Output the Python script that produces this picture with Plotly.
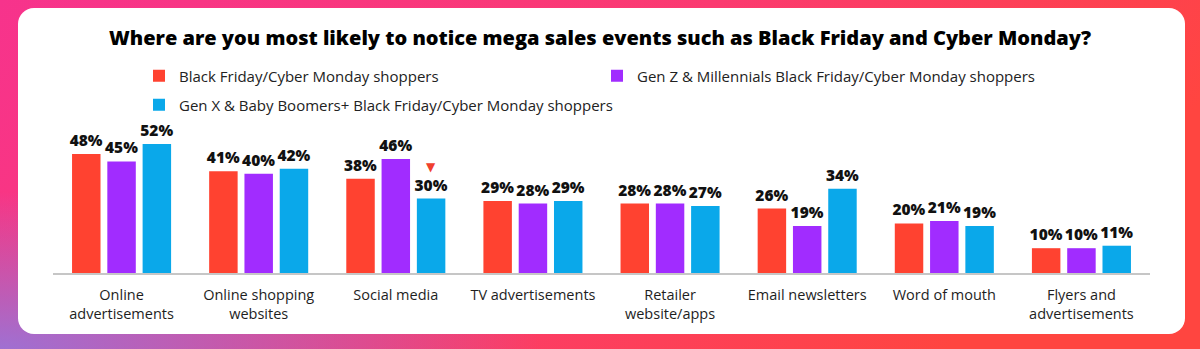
import base64
import plotly.graph_objects as go

categories = [
    "Online<br>advertisements",
    "Online shopping<br>websites",
    "Social media",
    "TV advertisements",
    "Retailer<br>website/apps",
    "Email newsletters",
    "Word of mouth",
    "Flyers and<br>advertisements",
]
all_shoppers = [48, 41, 38, 29, 28, 26, 20, 10]
genz_millennials = [45, 40, 46, 28, 28, 19, 21, 10]
genx_boomers = [52, 42, 30, 29, 27, 34, 19, 11]

series_names = [
    "Black Friday/Cyber Monday shoppers",
    "Gen Z & Millennials Black Friday/Cyber Monday shoppers",
    "Gen X & Baby Boomers+ Black Friday/Cyber Monday shoppers",
]
colors = ["#FF4230", "#A12CFF", "#0AA8EA"]

W, H = 1200, 349
L, R, T, B = 53, 50, 99, 76
pw, ph = W - L - R, H - T - B

svg = f"""<svg xmlns='http://www.w3.org/2000/svg' width='{W}' height='{H}' viewBox='0 0 {W} {H}' preserveAspectRatio='none'>
<defs>
<linearGradient id='g' x1='0' y1='0' x2='1' y2='0.3'>
<stop offset='0' stop-color='#f7338c'/>
<stop offset='0.55' stop-color='#fb3a70'/>
<stop offset='1' stop-color='#ff4540'/>
</linearGradient>
<radialGradient id='p' cx='0' cy='1' r='0.45'>
<stop offset='0' stop-color='#9f70d2' stop-opacity='1'/>
<stop offset='1' stop-color='#9f70d2' stop-opacity='0'/>
</radialGradient>
</defs>
<rect width='{W}' height='{H}' fill='url(#g)'/>
<rect width='{W}' height='{H}' fill='url(#p)'/>
<rect x='18' y='8' width='1167' height='326' rx='16' ry='16' fill='#ffffff'/>
</svg>"""
src = "data:image/svg+xml;base64," + base64.b64encode(svg.encode()).decode()

fig = go.Figure()
for name, vals, col, lg in zip(series_names, [all_shoppers, genz_millennials, genx_boomers],
                               colors, ["legend", "legend", "legend2"]):
    fig.add_trace(go.Bar(
        x=categories, y=vals, name=name, marker_color=col, marker_line_width=0,
        texttemplate="%{y}%", textposition="outside", cliponaxis=False,
        constraintext="none",
        textfont=dict(family="Open Sans", size=15.5, color="#111111", weight=800),
        legend=lg,
    ))

ppx = 2.48
fig.update_layout(
    width=W, height=H,
    margin=dict(l=L, r=R, t=T, b=B, pad=0),
    paper_bgcolor="rgba(0,0,0,0)", plot_bgcolor="rgba(0,0,0,0)",
    barmode="group", bargap=0.228, bargroupgap=0.193,
    title=dict(
        text="Where are you most likely to notice mega sales events such as Black Friday and Cyber Monday?",
        x=0.5, xref="container", xanchor="center",
        y=1 - 38 / H, yref="container", yanchor="middle",
        font=dict(family="Open Sans", size=20, color="#000000", weight=800),
    ),
    xaxis=dict(
        showline=True, linecolor="#c6c6c6", linewidth=2, ticks="",
        showgrid=False, zeroline=False,
        tickfont=dict(family="Open Sans", size=14.5, color="#1e1e1e"),
        ticklabelstandoff=8,
    ),
    yaxis=dict(visible=False, range=[0, ph / ppx], showgrid=False, zeroline=False),
    legend=dict(
        orientation="h", x=(139 - L) / pw, xanchor="left",
        y=(ph + T - 76) / ph, yanchor="middle",
        entrywidth=413, entrywidthmode="pixels",
        font=dict(family="Open Sans", size=15, color="#222222"),
        bgcolor="rgba(0,0,0,0)", itemclick=False, itemdoubleclick=False,
    ),
    legend2=dict(
        orientation="h", x=(139 - L) / pw, xanchor="left",
        y=(ph + T - 105) / ph, yanchor="middle",
        font=dict(family="Open Sans", size=15, color="#222222"),
        bgcolor="rgba(0,0,0,0)", itemclick=False, itemdoubleclick=False,
    ),
    images=[dict(
        source=src, xref="paper", yref="paper",
        x=-L / pw, y=1 + T / ph, sizex=W / pw, sizey=H / ph,
        xanchor="left", yanchor="top", sizing="stretch", layer="below",
    )],
    annotations=[dict(
        x=categories[2], y=genx_boomers[2], xref="x", yref="y",
        text="▼", showarrow=False, xshift=35.3, yshift=31.5,
        font=dict(family="DejaVu Sans", size=12, color="#F0402E"),
        yanchor="middle", xanchor="center",
    )],
    showlegend=True,
)

fig.write_html("out.html")
